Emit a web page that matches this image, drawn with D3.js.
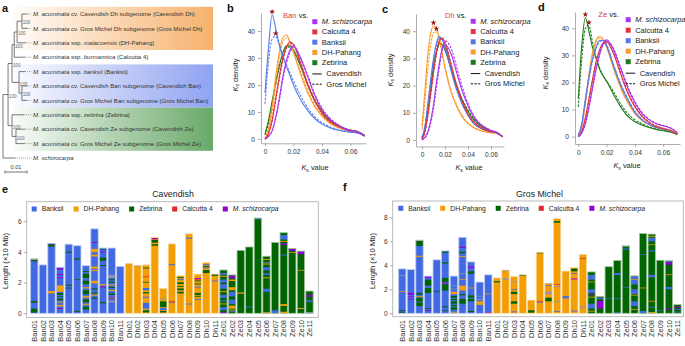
<!DOCTYPE html>
<html>
<head>
<meta charset="utf-8">
<script src="https://cdn.jsdelivr.net/npm/d3@7"></script>
<style>
  body { margin: 0; background: #fff; }
  svg { font-family: "Liberation Sans", Arial, sans-serif; }
  .ax path, .ax line { stroke: #9a9a9a; stroke-width: 0.8; }
  .ax text { fill: #333; font-size: 6.6px; font-family: "Liberation Sans", Arial, sans-serif; }
</style>
</head>
<body>
<svg id="fig" width="685" height="346"></svg>
<script>
// ---- panel a: phylogeny ----
const treeLabels = [
  "*M. acuminata* cv. Cavendish Dh subgenome (Cavendish Dh)",
  "*M. acuminata* cv. Gros Michel Dh subgenome (Gros Michel Dh)",
  "*M. acuminata* ssp. *malaccensis* (DH-Pahang)",
  "*M. acuminata* ssp. *burmannica* (Calcutta 4)",
  "*M. acuminata* ssp. *banksii* (Banksii)",
  "*M. acuminata* cv. Cavendish Ban subgenome (Cavendish Ban)",
  "*M. acuminata* cv. Gros Michel Ban subgenome (Gros Michel Ban)",
  "*M. acuminata* ssp. *zebrina* (Zebrina)",
  "*M. acuminata* cv. Cavendish Ze subgenome (Cavendish Ze)",
  "*M. acuminata* cv. Gros Michel Ze subgenome (Gros Michel Ze)",
  "*M. schizocarpa*"
];
// branch lengths (substitutions / site), bootstrap values
const tree = { len: 0, children: [
  { len: 0.0023, boot: 100, children: [
    { len: 0.0018, boot: 100, children: [
      { len: 0.001, boot: 100, children: [
        { len: 0.0013, boot: 100, children: [
          { len: 0.0022, boot: 100, children: [{ leaf: 0, len: 0.0025 }, { leaf: 1, len: 0.0025 }] },
          { leaf: 2, len: 0.004 }] },
        { leaf: 3, len: 0.005 }] },
      { len: 0.0032, boot: 100, children: [
        { leaf: 4, len: 0.0027 },
        { len: 0.0013, boot: 100, children: [{ leaf: 5, len: 0.0023 }, { leaf: 6, len: 0.0023 }] }] }] },
    { len: 0.0018, boot: 100, children: [
      { leaf: 7, len: 0.0055 },
      { len: 0.0018, boot: 100, children: [{ leaf: 8, len: 0.004 }, { leaf: 9, len: 0.004 }] }] }] },
  { leaf: 10, len: 0.0055 }] };
const cladeBands = [[0, 2, "#f6ae66"], [4, 6, "#8a9ef0"], [7, 9, "#62a562"]];

// ---- panels b-d: Ks density ----
const ksGrid = [0, 0.0025, 0.005, 0.0075, 0.01, 0.0125, 0.015, 0.0175, 0.02, 0.025, 0.03, 0.035, 0.04, 0.045, 0.05, 0.055, 0.06, 0.065, 0.07];
const kdeSpecies = ["*M. schizocarpa*", "Calcutta 4", "Banksii", "DH-Pahang", "Zebrina"];
const kdeColors = ["#a936f0", "#e1343b", "#567be8", "#fb9a2a", "#1d7a1d"];

const banCavendish = [
  [0, 1, 3, 8, 15, 23, 29, 33, 34.5, 30, 23, 16, 11, 7.5, 5.5, 4, 3, 2.5, 1.2],
  [0, 2, 7, 15, 23, 30, 34, 36, 35, 28, 20, 14, 9.5, 6.5, 5, 3.8, 3, 2.6, 1.2],
  [17, 34, 46, 41, 35, 30.5, 27, 23.5, 20, 14.5, 10.5, 7.5, 5.5, 4.3, 3.4, 2.9, 2.5, 2.2, 1],
  [0, 4, 12, 23, 32, 37.5, 38.5, 36, 32, 24, 17, 12, 8.5, 6, 4.5, 3.5, 2.8, 2.5, 1],
  [2, 7, 14, 21, 27, 32, 34.5, 34.5, 33, 27, 20, 14, 10, 7, 5.2, 4, 3.2, 2.8, 1.3]
];
const banGrosMichel = [
  [0, 1, 3, 7.5, 14, 22, 28, 32, 34, 30, 23.5, 16.5, 11.5, 8, 5.8, 4.2, 3.2, 2.6, 1.2],
  [0, 2, 6.5, 14, 22, 29, 33.5, 35.5, 35, 28.5, 20.5, 14.5, 10, 7, 5.2, 4, 3.2, 2.7, 1.2],
  [13, 29, 37, 38, 35, 31, 27.5, 24.5, 21.5, 16, 11.5, 8.2, 6, 4.7, 3.7, 3.1, 2.6, 2.3, 1],
  [0, 3, 10, 20, 30, 36, 37.5, 36, 32.5, 25, 18, 12.5, 9, 6.5, 4.8, 3.7, 3, 2.5, 1],
  [1.5, 6, 13, 20, 26.5, 31.5, 34, 34, 32.5, 27, 20.5, 14.5, 10.5, 7.5, 5.5, 4.2, 3.3, 2.8, 1.3]
];
const dhCavendish = [
  [0, 1, 3, 7, 13, 21, 28, 33.5, 35, 32, 25, 18, 12.5, 8.5, 6, 4.5, 3.5, 2.8, 1.2],
  [0.5, 3, 9, 17, 25, 32, 36.5, 37.5, 35.5, 28, 20, 14, 9.5, 6.5, 4.8, 3.7, 3.1, 2.7, 1.2],
  [1, 5, 13, 22, 30, 35.5, 38, 37, 34, 26, 18.5, 13, 9, 6, 4.5, 3.6, 3, 2.6, 1.2],
  [5, 18, 31, 39, 42, 41, 37.5, 32, 26.5, 18, 12.5, 8.5, 6, 4.5, 3.5, 3, 2.7, 2.4, 1.2],
  [0.5, 4, 11, 19, 27, 32.5, 35.5, 35, 33, 26.5, 20, 14.5, 10.5, 7.5, 5.5, 4.2, 3.3, 2.8, 1.3]
];
const dhGrosMichel = [
  [0, 0.8, 2.5, 6, 11.5, 19, 26.5, 32.5, 36.5, 34, 27, 19.5, 13.5, 9, 6.3, 4.7, 3.6, 2.9, 1.2],
  [0.5, 3, 8.5, 16.5, 24.5, 31.5, 36, 37.5, 36, 28.5, 20.5, 14.5, 10, 6.8, 5, 3.8, 3.2, 2.7, 1.2],
  [0.8, 4.5, 12, 21, 29, 34.5, 37.5, 37, 34.5, 26.5, 19, 13.5, 9.3, 6.3, 4.7, 3.7, 3.1, 2.6, 1.2],
  [4, 14, 26, 34.5, 39.5, 39.8, 37, 32, 27, 18.5, 13, 9, 6.3, 4.7, 3.6, 3.1, 2.7, 2.4, 1.2],
  [0.5, 3.5, 10, 18, 26, 32, 35, 35.5, 33.5, 27, 20.5, 15, 11, 7.8, 5.7, 4.3, 3.4, 2.8, 1.3]
];
const zeCavendish = [
  [0, 1.5, 5, 11, 18, 25, 30.5, 34.5, 35.8, 32, 25, 18, 12.5, 8.5, 6.2, 4.8, 4, 3.2, 1.5],
  [0, 2, 7, 14, 21, 27.5, 32, 34.5, 35, 30.5, 23, 16, 11, 7.5, 5.2, 3.8, 3, 2.3, 1],
  [0.5, 5, 14, 22, 28.5, 33, 35.5, 35.5, 33.5, 26, 19, 13.5, 9, 6.3, 4.5, 3.5, 2.8, 2.2, 1],
  [0, 4, 13, 23, 31, 35.5, 37, 36, 33, 25, 18, 12.5, 8.5, 6, 4.5, 3.5, 2.8, 2.2, 1],
  [14, 34, 44, 39, 33, 29, 25, 22.5, 20.5, 15.5, 11, 7.5, 5.5, 4.3, 3.4, 2.7, 2.2, 1.7, 0.8]
];
const zeGrosMichel = [
  [0, 1.5, 4.5, 10.5, 17.5, 24.5, 30, 34, 35.5, 32.5, 25.5, 18.5, 13, 9, 6.5, 5, 4.1, 3.3, 1.5],
  [0, 2, 6.5, 13.5, 20.5, 27, 31.5, 34, 35, 31, 23.5, 16.5, 11.5, 7.8, 5.4, 4, 3.1, 2.4, 1],
  [0.5, 4.5, 13, 21, 28, 32.5, 35, 35.5, 34, 26.5, 19.5, 14, 9.5, 6.5, 4.7, 3.6, 2.9, 2.3, 1],
  [0, 3.5, 12, 22, 30, 34.5, 36.5, 36, 33.5, 25.5, 18.5, 13, 9, 6.3, 4.7, 3.6, 2.9, 2.3, 1],
  [11, 29, 40, 41, 35, 29.5, 25.5, 22.5, 20.5, 16.5, 12, 8.5, 6.2, 4.8, 3.7, 3, 2.4, 1.8, 0.8]
];

// ---- panels e-f: ancestry mosaic per chromosome (x10 Mb) ----
const chromosomes = ["Ban01", "Ban02", "Ban03", "Ban04", "Ban05", "Ban06", "Ban07", "Ban08", "Ban09", "Ban10", "Ban11",
  "Dh01", "Dh02", "Dh03", "Dh04", "Dh05", "Dh06", "Dh07", "Dh08", "Dh09", "Dh10", "Dh11",
  "Ze01", "Ze02", "Ze03", "Ze04", "Ze05", "Ze06", "Ze07", "Ze08", "Ze09", "Ze10", "Ze11"];
const ancestryKeys = ["B", "D", "Z", "C", "S"];
const ancestryNames = ["Banksii", "DH-Pahang", "Zebrina", "Calcutta 4", "*M. schizocarpa*"];
const ancestryColors = { B: "#4169e1", D: "#f29e05", Z: "#006400", C: "#e2262c", S: "#9400d3", G: "#8f94ab" };

const cavendishLength = [3.55, 3.15, 4.55, 3.0, 4.5, 4.4, 3.1, 5.5, 4.25, 4.25, 3.05,
  3.25, 3.12, 3.15, 4.95, 1.62, 4.52, 2.45, 5.18, 2.55, 3.3, 2.55,
  2.82, 2.5, 4.1, 4.32, 6.2, 3.72, 4.62, 5.25, 4.22, 4.05, 1.45];
const grosMichelLength = [3.7, 3.64, 6.1, 3.1, 4.45, 5.2, 3.1, 6.33, 4.28, 2.6, 3.2,
  2.95, 3.6, 3.05, 3.2, 1.1, 5.08, 2.5, 7.9, 3.52, 3.8, 4.9,
  3.45, 1.4, 3.88, 4.4, 5.62, 3.12, 6.65, 6.6, 4.42, 4.38, 0.72];

// introgressed blocks [from, to, ancestry]
const cavendishBlocks = [
  [[0.05, 0.3, "Z"], [0.7, 0.8, "Z"], [3.38, 3.46, "Z"], [3.5, 3.55, "D"]],
  [],
  [[1.3, 1.45, "D"], [4.35, 4.5, "Z"], [4.5, 4.55, "S"]],
  [[0.28, 0.34, "S"], [0.45, 0.55, "D"], [0.7, 0.76, "D"], [0.85, 0.95, "Z"], [1.05, 1.1, "Z"], [1.2, 1.32, "Z"], [1.4, 1.82, "D"], [2.28, 2.34, "S"], [2.48, 2.56, "S"], [2.85, 2.95, "S"]],
  [[1.62, 1.67, "Z"], [1.8, 1.87, "Z"], [3.95, 4.02, "Z"]],
  [[0.1, 0.16, "Z"], [2.18, 2.22, "Z"], [3.5, 3.58, "Z"]],
  [[0.25, 0.42, "Z"], [0.55, 0.62, "D"], [0.72, 0.9, "Z"], [1.02, 1.12, "D"], [1.25, 1.5, "Z"], [1.62, 1.7, "D"], [1.9, 2.12, "Z"], [2.3, 2.58, "Z"], [2.7, 2.75, "Z"]],
  [[0.95, 1.02, "Z"], [1.15, 1.22, "D"], [1.28, 1.35, "Z"], [1.55, 1.62, "Z"], [1.95, 2.12, "D"], [2.75, 2.82, "D"], [2.9, 3.05, "D"], [3.7, 3.82, "D"], [3.98, 4.2, "D"], [4.58, 4.64, "S"]],
  [[0.65, 0.72, "Z"], [1.68, 1.74, "S"], [1.82, 1.9, "D"], [3.08, 3.14, "Z"], [3.42, 3.62, "Z"], [3.96, 4.02, "S"], [4.15, 4.2, "Z"]],
  [[0.7, 0.82, "G"], [0.95, 1.02, "C"], [1.2, 1.3, "Z"], [1.45, 1.52, "D"], [1.65, 1.72, "Z"], [1.82, 1.88, "D"], [1.98, 2.05, "Z"], [2.15, 2.22, "Z"], [2.3, 2.5, "G"]],
  [],
  [[3.2, 3.25, "G"]],
  [[3.07, 3.12, "B"]],
  [[0.05, 0.2, "Z"], [0.3, 0.68, "B"], [1.02, 1.08, "B"], [1.3, 1.38, "Z"], [1.5, 1.65, "B"], [2.0, 2.05, "Z"], [2.35, 2.4, "C"], [2.92, 2.98, "Z"]],
  [[4.4, 4.5, "Z"], [4.6, 4.78, "Z"], [4.82, 4.9, "S"]],
  [[0.05, 0.15, "Z"], [0.2, 0.35, "B"], [0.4, 0.78, "Z"], [0.9, 0.95, "G"]],
  [[0.66, 0.7, "B"], [0.72, 0.78, "C"], [3.13, 3.2, "B"]],
  [[1.3, 1.4, "Z"], [1.5, 1.62, "Z"], [1.72, 1.78, "Z"], [1.9, 2.02, "Z"], [2.18, 2.24, "B"], [2.3, 2.36, "Z"]],
  [[0.58, 0.63, "B"], [4.86, 4.93, "B"]],
  [[0.88, 0.94, "B"], [1.08, 1.14, "Z"], [1.2, 1.32, "Z"], [1.68, 1.74, "B"], [1.88, 1.94, "Z"], [2.08, 2.14, "Z"], [2.18, 2.22, "C"], [2.24, 2.3, "S"]],
  [[2.62, 2.82, "Z"], [2.92, 2.98, "B"], [3.02, 3.08, "Z"], [3.13, 3.2, "B"]],
  [[2.08, 2.13, "B"], [2.44, 2.55, "Z"]],
  [[0.02, 0.08, "S"], [0.2, 0.4, "B"], [0.58, 0.64, "D"], [0.78, 0.84, "B"], [1.0, 1.2, "B"], [1.38, 1.44, "D"], [1.6, 1.9, "B"], [2.0, 2.2, "B"], [2.38, 2.44, "D"], [2.5, 2.62, "B"]],
  [[0.08, 0.14, "B"], [0.18, 0.24, "D"], [0.3, 0.5, "D"], [0.6, 0.9, "B"], [1.1, 1.4, "B"], [1.5, 1.7, "D"], [2.1, 2.2, "D"], [2.28, 2.45, "S"]],
  [[1.28, 1.36, "D"]],
  [[0.38, 0.44, "B"]],
  [[6.12, 6.2, "B"]],
  [[0.02, 0.07, "D"], [1.4, 1.6, "B"], [2.28, 2.34, "D"], [2.5, 2.6, "B"], [2.8, 3.0, "B"], [3.18, 3.24, "D"], [3.28, 3.34, "B"], [3.48, 3.54, "D"]],
  [[0, 0.2, "B"]],
  [[0, 0.1, "D"], [0.48, 0.6, "D"], [3.76, 3.82, "B"], [4.45, 4.55, "S"], [4.66, 4.72, "D"], [4.8, 5.1, "B"]],
  [[3.93, 3.98, "D"], [4.08, 4.2, "S"]],
  [[0.28, 0.34, "D"], [2.78, 2.83, "D"], [3.85, 4.05, "S"]],
  [[0.02, 0.08, "G"], [0.75, 0.85, "B"], [1.08, 1.2, "S"]]
];
const grosMichelBlocks = [
  [[0.05, 0.12, "Z"], [0.18, 0.25, "Z"], [1.8, 1.86, "D"], [3.1, 3.18, "G"]],
  [[1.15, 1.22, "S"], [1.38, 1.44, "S"], [1.55, 1.7, "S"]],
  [[0.6, 0.9, "Z"], [0.98, 1.3, "Z"], [1.35, 1.42, "D"], [1.55, 1.7, "Z"], [4.7, 4.8, "D"], [5.6, 6.05, "Z"], [6.05, 6.1, "D"]],
  [[0.22, 0.28, "S"], [0.38, 0.44, "Z"], [1.7, 2.1, "Z"], [2.3, 2.8, "Z"], [2.95, 3.05, "S"]],
  [[1.8, 1.86, "Z"]],
  [[0.18, 0.24, "Z"], [0.5, 0.58, "Z"], [1.9, 2.42, "Z"], [2.48, 2.56, "S"], [2.6, 2.95, "Z"], [4.15, 4.25, "Z"], [5.05, 5.15, "Z"]],
  [[0.05, 0.12, "D"], [0.3, 0.5, "Z"], [0.6, 0.7, "Z"], [0.8, 1.0, "Z"], [1.1, 1.2, "Z"], [1.3, 1.45, "Z"], [1.6, 1.8, "D"], [2.0, 2.05, "G"], [2.3, 2.35, "G"]],
  [[0.8, 1.2, "Z"], [1.5, 1.6, "Z"], [1.9, 2.3, "D"], [2.8, 2.86, "D"], [3.28, 3.34, "G"], [4.7, 4.78, "D"], [5.0, 5.12, "Z"], [5.45, 5.55, "S"]],
  [[0.1, 0.2, "Z"], [1.0, 1.2, "Z"], [1.3, 1.5, "Z"], [2.08, 2.14, "D"], [3.3, 3.5, "Z"], [3.78, 3.9, "S"]],
  [[0.7, 1.0, "D"], [1.1, 1.2, "G"], [1.4, 1.46, "G"]],
  [[0.02, 0.08, "C"], [1.58, 1.64, "D"]],
  [[2.58, 2.68, "Z"]],
  [[2.8, 2.92, "G"], [3.55, 3.6, "B"]],
  [[0.08, 0.15, "B"], [0.8, 1.0, "Z"], [1.6, 1.8, "Z"], [1.96, 2.02, "B"], [2.6, 2.66, "G"]],
  [[3.12, 3.2, "Z"]],
  [[0.05, 0.25, "Z"]],
  [[0.88, 0.94, "B"], [0.98, 1.04, "C"], [5.0, 5.08, "Z"]],
  [[1.0, 1.3, "Z"], [1.6, 1.8, "G"], [2.28, 2.34, "B"], [2.44, 2.5, "Z"]],
  [[0.12, 0.18, "B"], [0.95, 1.02, "G"], [2.2, 2.27, "G"], [2.37, 2.43, "C"], [7.55, 7.68, "Z"]],
  [[1.25, 1.42, "B"]],
  [[0.15, 0.22, "B"], [2.82, 2.9, "S"], [3.28, 3.34, "B"], [3.5, 3.72, "Z"]],
  [[0.45, 0.55, "G"], [4.52, 4.58, "C"]],
  [[0.15, 0.22, "D"], [0.4, 0.8, "B"], [1.32, 1.38, "D"], [1.55, 1.62, "S"], [1.7, 2.0, "B"], [2.58, 2.64, "D"], [2.8, 3.2, "B"]],
  [[0.4, 1.05, "S"], [1.18, 1.3, "B"], [1.35, 1.4, "D"]],
  [[1.18, 1.24, "B"]],
  [[0.05, 0.12, "B"], [1.18, 1.24, "B"], [3.2, 3.36, "B"]],
  [[2.14, 2.2, "B"], [5.3, 5.4, "B"], [5.55, 5.62, "G"]],
  [[0.28, 0.34, "D"], [0.6, 1.0, "B"], [1.48, 1.54, "D"], [1.6, 2.0, "B"], [2.4, 3.1, "B"], [2.78, 2.84, "D"]],
  [[0, 0.2, "B"], [2.08, 2.14, "D"], [4.88, 4.94, "B"]],
  [[0.02, 0.1, "D"], [0.48, 0.54, "B"], [0.98, 1.04, "D"], [3.0, 3.2, "B"], [5.15, 5.25, "B"], [5.68, 5.74, "D"], [6.0, 6.3, "B"], [6.38, 6.45, "D"]],
  [[0.18, 0.24, "B"]],
  [[0.32, 0.4, "S"], [2.0, 2.2, "B"], [3.18, 3.24, "D"], [4.05, 4.25, "S"], [4.28, 4.35, "B"]],
  [[0.08, 0.14, "B"], [0.28, 0.34, "B"], [0.45, 0.55, "S"]]
];

const svg = d3.select("#fig");
svg.append("rect").attr("width", 685).attr("height", 346).attr("fill", "#fff");
const defs = svg.append("defs");

// text with *italic* parts
const richText = (sel, str) => {
  str.split("*").forEach((part, i) => {
    if (part) sel.append("tspan").attr("font-style", i % 2 ? "italic" : null).text(part);
  });
  return sel;
};
const panelLabel = (t, x, y) =>
  svg.append("text").attr("x", x).attr("y", y).attr("font-size", 11).attr("font-weight", "bold").attr("fill", "#111").text(t);

/* ---------------- a ---------------- */
panelLabel("a", 2, 12);
const tx = d3.scaleLinear().domain([0, 0.01]).range([3, 25]);
const ty = d3.scaleLinear().domain([0, 10]).range([14, 158]);

cladeBands.forEach(([from, to, col], i) => {
  const grad = defs.append("linearGradient").attr("id", "band" + i);
  grad.append("stop").attr("offset", 0).attr("stop-color", col).attr("stop-opacity", 0.04);
  grad.append("stop").attr("offset", 1).attr("stop-color", col).attr("stop-opacity", 0.95);
  svg.append("rect")
    .attr("x", 14).attr("y", ty(from) - 7.2)
    .attr("width", 199).attr("height", ty(to) - ty(from) + 14.4)
    .attr("fill", `url(#band${i})`);
});

const root = d3.hierarchy(tree);
root.each((n) => { n.dist = (n.parent ? n.parent.dist : 0) + n.data.len; });
root.eachAfter((n) => {
  n.yy = n.children ? (n.children[0].yy + n.children[n.children.length - 1].yy) / 2 : ty(n.data.leaf);
});
const gTree = svg.append("g").attr("stroke", "#555").attr("stroke-width", 0.8).attr("fill", "none");
root.each((n) => {
  if (n.parent) {
    gTree.append("line").attr("x1", tx(n.parent.dist)).attr("x2", tx(n.dist)).attr("y1", n.yy).attr("y2", n.yy);
  }
  if (n.children) {
    gTree.append("line").attr("x1", tx(n.dist)).attr("x2", tx(n.dist))
      .attr("y1", n.children[0].yy).attr("y2", n.children[n.children.length - 1].yy);
    if (n.data.boot) {
      svg.append("text").attr("x", tx(n.dist) + 0.8).attr("y", n.yy + 3.2)
        .attr("font-size", 4.6).attr("fill", "#666").text(n.data.boot);
    }
  } else {
    gTree.append("line").attr("x1", tx(n.dist)).attr("x2", 31.5).attr("y1", n.yy).attr("y2", n.yy)
      .attr("stroke-dasharray", "1,1").attr("stroke", "#888");
    richText(svg.append("text").attr("x", 33).attr("y", n.yy + 2.1)
      .attr("font-size", 6.05).attr("fill", "#333"), treeLabels[n.data.leaf]);
  }
});
// scale bar
const sb = svg.append("g").attr("stroke", "#555").attr("stroke-width", 0.8);
sb.append("line").attr("x1", tx(0) + 2).attr("x2", tx(0.01) + 2).attr("y1", 172).attr("y2", 172);
[0, 0.01].forEach((v) => sb.append("line").attr("x1", tx(v) + 2).attr("x2", tx(v) + 2).attr("y1", 170.5).attr("y2", 173.5));
svg.append("text").attr("x", (tx(0) + tx(0.01)) / 2 + 2).attr("y", 169).attr("text-anchor", "middle")
  .attr("font-size", 5.6).attr("fill", "#444").text("0.01");

/* ---------------- b-d ---------------- */
const ksPanel = (p, cav, gm, focal, who) => {
  const g = svg.append("g");
  panelLabel(p.lab, p.labX, p.labY);
  const x = d3.scaleLinear().domain([0, 0.02]).range([p.x0, p.x0 + p.kx]);
  const y = d3.scaleLinear().domain([0, 10]).range([p.y0, p.y0 - p.ky]);
  const xa = d3.scaleLinear().domain([x.invert(p.ax), x.invert(p.ax1)]).range([p.ax, p.ax1]);
  const ya = d3.scaleLinear().domain([y.invert(p.ay), y.invert(p.ay1)]).range([p.ay, p.ay1]);

  g.append("g").attr("class", "ax").attr("transform", `translate(0,${p.ay})`)
    .call(d3.axisBottom(xa).tickValues([0, 0.02, 0.04, 0.06]).tickSize(3).tickSizeOuter(0)
      .tickFormat((d) => (d ? d.toFixed(2) : "0")));
  g.append("g").attr("class", "ax").attr("transform", `translate(${p.ax},0)`)
    .call(d3.axisLeft(ya).tickValues([0, 10, 20, 30, 40]).tickSize(3).tickSizeOuter(0));

  // axis titles
  const yl = g.append("text").attr("transform", `translate(${p.ylX},${p.ylY}) rotate(-90)`)
    .attr("text-anchor", "middle").attr("font-size", 7.4).attr("fill", "#222");
  yl.append("tspan").attr("font-style", "italic").text("K");
  yl.append("tspan").attr("font-size", 5).attr("dy", 1.5).text("s");
  yl.append("tspan").attr("dy", -1.5).text(" density");
  const xl = g.append("text").attr("x", p.xlX).attr("y", p.xlY)
    .attr("text-anchor", "middle").attr("font-size", 7.4).attr("fill", "#222");
  xl.append("tspan").attr("font-style", "italic").text("K");
  xl.append("tspan").attr("font-size", 5).attr("dy", 1.5).text("s");
  xl.append("tspan").attr("dy", -1.5).text(" value");

  const line = d3.line().x((d, i) => x(ksGrid[i])).y((d) => y(d)).curve(d3.curveMonotoneX);
  d3.range(kdeSpecies.length).reverse().forEach((k) => {
    g.append("path").attr("d", line(gm[k])).attr("fill", "none")
      .attr("stroke", kdeColors[k]).attr("stroke-width", 1.1).attr("stroke-dasharray", "2.4,1.3");
    g.append("path").attr("d", line(cav[k])).attr("fill", "none")
      .attr("stroke", kdeColors[k]).attr("stroke-width", 1.1);
  });

  // stars at the peak of the focal comparison
  [cav[focal], gm[focal]].forEach((s) => {
    const i = d3.maxIndex(s);
    g.append("path").attr("d", d3.symbol(d3.symbolStar, 11)())
      .attr("transform", `translate(${x(ksGrid[i])},${y(s[i]) - 3})`).attr("fill", "#9c1a1a");
  });

  const t = g.append("text").attr("x", p.tx).attr("y", p.ty).attr("font-size", 7.6);
  t.append("tspan").attr("fill", "#d93a3a").text(who);
  t.append("tspan").attr("fill", "#222").text(" vs.");

  // legend
  kdeSpecies.forEach((s, k) => {
    const yy = p.ly + k * p.ldy;
    g.append("rect").attr("x", p.lx).attr("y", yy - 2.5).attr("width", 5).attr("height", 5).attr("fill", kdeColors[k]);
    richText(g.append("text").attr("x", p.lx + 9.5).attr("y", yy + 2.5).attr("font-size", 7.5).attr("fill", "#222"), s);
  });
  ["Cavendish", "Gros Michel"].forEach((s, k) => {
    const yy = p.ly + (5 + k) * p.ldy + 1;
    g.append("line").attr("x1", p.lx).attr("x2", p.lx + 9.5).attr("y1", yy).attr("y2", yy)
      .attr("stroke", "#111").attr("stroke-width", 1).attr("stroke-dasharray", k ? "2.4,1.3" : null);
    g.append("text").attr("x", p.lx + 14).attr("y", yy + 2.5).attr("font-size", 7.5).attr("fill", "#222").text(s);
  });
};

ksPanel({ lab: "b", labX: 227, labY: 12, x0: 265, kx: 28.5, y0: 139, ky: 27, ax: 261, ax1: 366, ay: 143.3, ay1: 13,
  ylX: 237.5, ylY: 75, xlX: 315, xlY: 170, tx: 283, ty: 18, lx: 312.3, ly: 21.7, ldy: 10.25 },
  banCavendish, banGrosMichel, 2, "Ban");
ksPanel({ lab: "c", labX: 382, labY: 13, x0: 422, kx: 23, y0: 140, ky: 27.2, ax: 416, ax1: 504, ay: 146.5, ay1: 14,
  ylX: 392.5, ylY: 70, xlX: 469, xlY: 170, tx: 445, ty: 17.5, lx: 470.7, ly: 21.3, ldy: 10.25 },
  dhCavendish, dhGrosMichel, 3, "Dh");
ksPanel({ lab: "d", labX: 538, labY: 11, x0: 578.3, kx: 28.3, y0: 136.7, ky: 27.1, ax: 575, ax1: 680, ay: 144, ay1: 12,
  ylX: 547.5, ylY: 73, xlX: 627, xlY: 168.3, tx: 598.3, ty: 16.5, lx: 625.7, ly: 19.7, ldy: 10.5 },
  zeCavendish, zeGrosMichel, 4, "Ze");

/* ---------------- e-f ---------------- */
const barPanel = (p, lengths, blocks, title) => {
  const g = svg.append("g");
  panelLabel(p.lab, p.labX, p.labY);
  const x = d3.scaleBand().domain(chromosomes).range([p.x0, p.x1]).paddingInner(0.15).paddingOuter(0.075);
  const y = d3.scaleLinear().domain([0, 2]).range([p.y0, p.y0 - p.ky]);

  g.append("rect").attr("x", p.fx0).attr("y", p.fy0).attr("width", p.fx1 - p.fx0).attr("height", p.fy1 - p.fy0)
    .attr("fill", "none").attr("stroke", "#b3b3b3").attr("stroke-width", 0.9);
  g.append("text").attr("x", p.tX).attr("y", p.tY).attr("text-anchor", "middle")
    .attr("font-size", 8.8).attr("fill", "#222").text(title);

  const ya = d3.scaleLinear().domain([y.invert(p.fy1), y.invert(p.fy0)]).range([p.fy1, p.fy0]);
  const yAxis = g.append("g").attr("class", "ax").attr("transform", `translate(${p.fx0},0)`)
    .call(d3.axisLeft(ya).tickValues(p.ticks).tickSize(3).tickSizeOuter(0).tickPadding(2));
  yAxis.select(".domain").remove();
  yAxis.selectAll("text").attr("font-size", 7);
  g.append("text").attr("transform", `translate(${p.ylX},${p.ylY}) rotate(-90)`).attr("text-anchor", "middle")
    .attr("font-size", 7.6).attr("fill", "#222").text("Length (×10 Mb)");

  chromosomes.forEach((c, i) => {
    const main = ancestryColors[c.startsWith("Ban") ? "B" : c.startsWith("Dh") ? "D" : "Z"];
    const bg = g.append("g");
    bg.append("rect").attr("x", x(c)).attr("width", x.bandwidth())
      .attr("y", y(lengths[i])).attr("height", y(0) - y(lengths[i])).attr("fill", main);
    blocks[i].forEach(([lo, hi, k]) => {
      bg.append("rect").attr("x", x(c)).attr("width", x.bandwidth())
        .attr("y", y(Math.min(hi, lengths[i]))).attr("height", Math.max(0.5, y(lo) - y(Math.min(hi, lengths[i]))))
        .attr("fill", ancestryColors[k]);
    });
    bg.append("rect").attr("x", x(c)).attr("width", x.bandwidth())
      .attr("y", y(lengths[i])).attr("height", y(0) - y(lengths[i]))
      .attr("fill", "none").attr("stroke", d3.interpolateRgb(main, "#fff")(0.62)).attr("stroke-width", 0.8);
    g.append("text").attr("transform", `translate(${x(c) + x.bandwidth() / 2 + 2.6},${p.xlabY}) rotate(-90)`)
      .attr("text-anchor", "end").attr("font-size", 7.5).attr("fill", "#333").text(c);
  });

  // legend laid out left to right
  let lx = p.legX;
  ancestryKeys.forEach((k, i) => {
    g.append("rect").attr("x", lx).attr("y", p.legY - 2.5).attr("width", 5).attr("height", 5).attr("fill", ancestryColors[k]);
    const t = richText(g.append("text").attr("x", lx + 10).attr("y", p.legY + 2.3)
      .attr("font-size", 6.8).attr("fill", "#222"), ancestryNames[i]);
    lx += 10 + t.node().getComputedTextLength() + 10;
  });
};

barPanel({ lab: "e", labX: 2, labY: 193, x0: 30, x1: 313.8, y0: 313.3, ky: 30.7, fx0: 26.7, fx1: 318.3, fy0: 201.7, fy1: 317.5,
  ticks: [0, 2, 4, 6], tX: 173, tY: 197, ylX: 8, ylY: 261, legX: 31.7, legY: 209, xlabY: 320 },
  cavendishLength, cavendishBlocks, "Cavendish");
barPanel({ lab: "f", labX: 343, labY: 191, x0: 398, x1: 681.8, y0: 313.3, ky: 24, fx0: 392.7, fx1: 683.3, fy0: 201, fy1: 316.7,
  ticks: [0, 2, 4, 6, 8], tX: 539.5, tY: 197, ylX: 375, ylY: 261, legX: 398.3, legY: 208.3, xlabY: 320 },
  grosMichelLength, grosMichelBlocks, "Gros Michel");
</script>
</body>
</html>
